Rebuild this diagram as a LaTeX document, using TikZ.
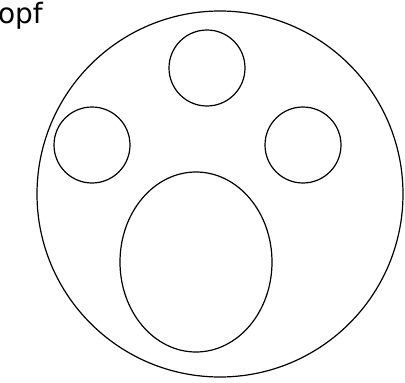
\documentclass[tikz,border=0pt]{standalone}
\usepackage{fontspec}
\setmainfont{DejaVu Sans}
\usetikzlibrary{positioning}
\begin{document}
\begin{tikzpicture}[
  x=1pt, y=1pt,
  outl/.style={draw, line width=1.2pt},
  lbl/.style={font=\fontsize{28}{32}\selectfont, inner sep=0pt}]
\useasboundingbox (0,0) rectangle (405,-383);
\clip (0,0) rectangle (405,-383);
% head and features
\node[outl, circle, minimum size=366pt] (head) at (220,-194) {};
\node[outl, circle, minimum size=76pt] (top) at (207,-68) {};
\node[outl, circle, minimum size=76pt] (left) at (92,-145) {};
\node[outl, circle, minimum size=76pt] (right) at (303,-145) {};
\draw[line width=1.2pt] (196,-262) ellipse [x radius=76, y radius=90];
% label
\node[lbl, anchor=base east] (title) at (43,-23) {Kopf};
\end{tikzpicture}
\end{document}
